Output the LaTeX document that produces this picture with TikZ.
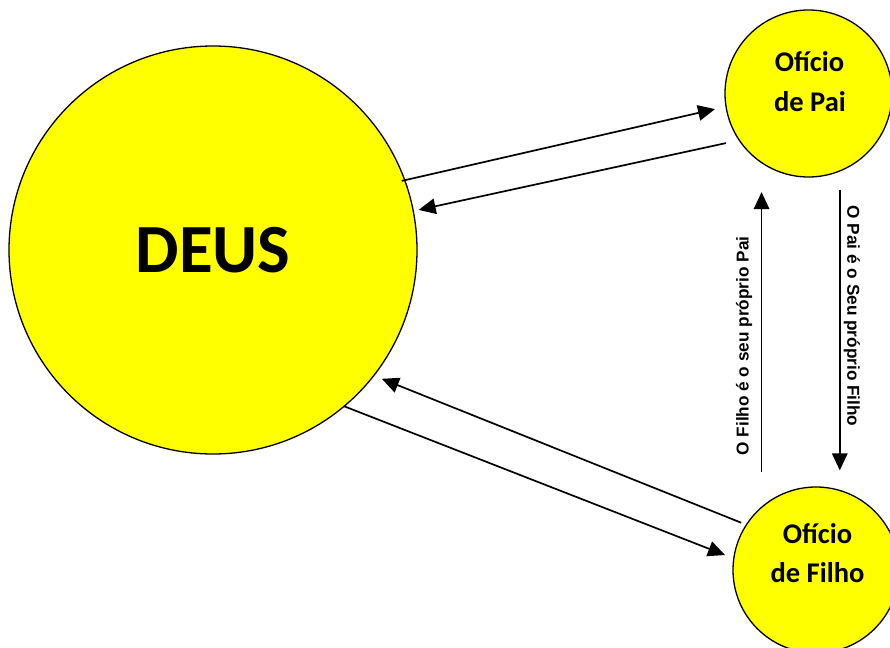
\documentclass[tikz,border=0pt]{standalone}
\usepackage{fontspec}
\setmainfont{Carlito}
\newfontfamily\arialf{Liberation Sans}
\usetikzlibrary{arrows.meta}
\definecolor{yellowc}{HTML}{FFFF00}
\begin{document}
\begin{tikzpicture}[x=1pt,y=-1pt,
 bubble/.style={circle,draw=black,line width=1.3pt,fill=yellowc,inner sep=0pt,outer sep=0pt},
 lbl/.style={font=\fontsize{28.5}{30}\selectfont\bfseries,inner sep=0pt,anchor=base},
 vlbl/.style={font=\arialf\bfseries\fontsize{17.2}{19}\selectfont,inner sep=0pt},
 conn/.style={line width=1.7pt,-{Triangle[length=17pt,width=15.5pt]}}]
\useasboundingbox (0,0) rectangle (890,647);
\node[bubble,minimum size=408pt,font=\fontsize{69}{72}\selectfont\bfseries] (deus) at (213,250) {DEUS};
\node[bubble,minimum size=167pt] (pai) at (808.5,93.5) {};
\node[bubble,minimum size=166pt] (filho) at (816,570) {};
\node[lbl] (paiA) at (809.5,72) {Ofício};
\node[lbl] (paiB) at (810,112) {de Pai};
\node[lbl] (filA) at (817.5,543) {Ofício};
\node[lbl] (filB) at (817.5,582) {de Filho};
% top pair
\draw[conn,shorten <=-3pt,shorten >=11.3pt] (deus.20.7) -- (pai.189.7);
\draw[conn,shorten <=13.6pt,shorten >=5.5pt] (pai.214) -- (deus.11.9);
% bottom pair
\draw[conn,shorten <=5.6pt,shorten >=8.7pt] (filho.147.3) -- (deus.-38.4);
\draw[conn,shorten >=9.45pt] (deus.-50.8) -- (filho.172);
% vertical
\draw[conn,shorten <=35.8pt,shorten >=30.2pt] (filho.131.5) -- (filho.131.5 |- pai.235.3);
\draw[conn,shorten <=18.8pt,shorten >=20.3pt] (pai.-68.57) -- (pai.-68.57 |- filho.73.9);
\node[vlbl,rotate=90] (t1) at (744,346) {O Filho é o seu próprio Pai};
\node[vlbl,rotate=-90] (t2) at (852,316) {O Pai é o Seu próprio Filho};
\end{tikzpicture}
\end{document}
